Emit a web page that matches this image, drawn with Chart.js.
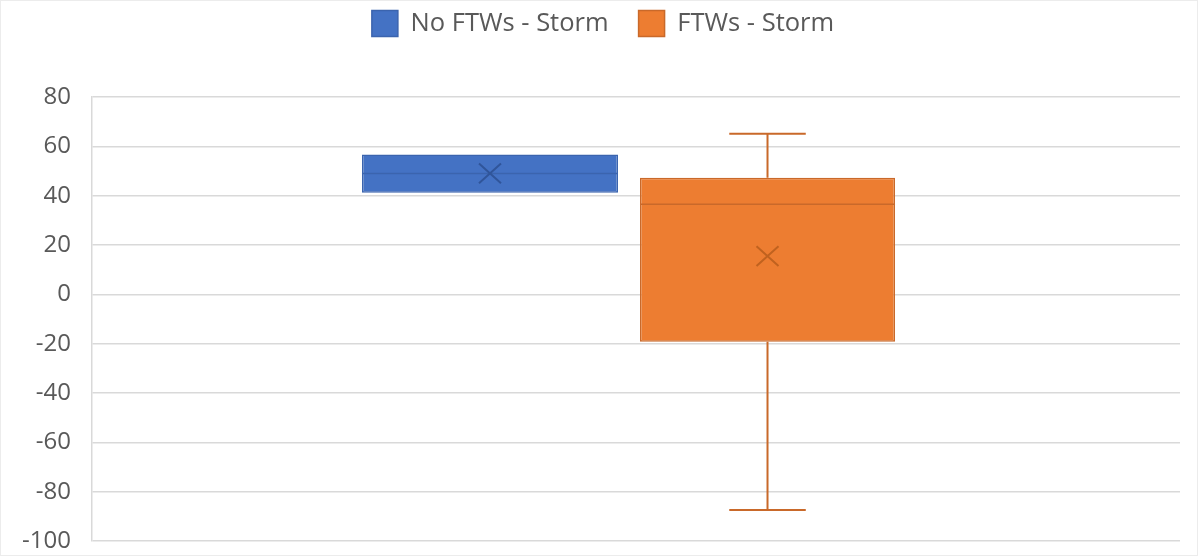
<!DOCTYPE html>
<html>
<head>
<meta charset="utf-8">
<script src="https://cdn.jsdelivr.net/npm/chart.js@4/dist/chart.umd.min.js"></script>
<style>
  html, body { margin: 0; padding: 0; background: #ffffff; overflow: hidden; }
  #wrap { width: 1198px; height: 556px; position: relative; overflow: hidden; }
  #frame { position: absolute; inset: 0; border: 1px solid #ececec; pointer-events: none; }
</style>
</head>
<body>
<div id="wrap"><canvas id="chart" width="1198" height="556"></canvas><div id="frame"></div></div>
<script>
// Box-and-whisker summary per series
const categories = [''];
const seriesNames = ['No FTWs - Storm', 'FTWs - Storm'];
const minValues = [41.2, -87.4];
const q1Values = [41.2, -19.2];
const medianValues = [49.0, 36.5];
const q3Values = [56.7, 47.3];
const maxValues = [56.7, 65.1];
const meanValues = [49.0, 15.5];
const yMin = -100, yMax = 80, yStep = 20;

const fills = ['#4472C4', '#ED7D31'];
const edges = ['#3B64AE', '#C9692A'];
const marks = ['#30559A', '#C0621F'];
// slot placement of each box within the single category
const catPct = [0.5368, 0.4835];
const barPct = [0.8767, 0.9696];

const datasets = seriesNames.map((name, i) => ({
  label: name,
  data: [[q1Values[i], q3Values[i]]],
  backgroundColor: fills[i],
  borderColor: edges[i],
  borderWidth: 1.5,
  borderSkipped: false,
  categoryPercentage: catPct[i],
  barPercentage: barPct[i]
}));

// Whiskers, median line and mean cross drawn on top of each box
const boxExtras = {
  id: 'boxExtras',
  afterDatasetsDraw(chart) {
    const ctx = chart.ctx;
    const y = chart.scales.y;
    chart.data.datasets.forEach((ds, i) => {
      const bar = chart.getDatasetMeta(i).data[0];
      if (!bar) return;
      const cx = bar.x;
      const half = bar.width / 2;
      const yq1 = y.getPixelForValue(q1Values[i]);
      const yq3 = y.getPixelForValue(q3Values[i]);
      const ymin = y.getPixelForValue(minValues[i]);
      const ymax = y.getPixelForValue(maxValues[i]);
      const ymed = y.getPixelForValue(medianValues[i]);
      const ymean = y.getPixelForValue(meanValues[i]);
      const cap = bar.width * 0.15;
      ctx.save();
      ctx.strokeStyle = edges[i];
      ctx.lineWidth = 2;
      ctx.beginPath();
      if (ymax < yq3 - 0.5) {
        ctx.moveTo(cx, yq3); ctx.lineTo(cx, ymax);
        ctx.moveTo(cx - cap, ymax); ctx.lineTo(cx + cap, ymax);
      }
      if (ymin > yq1 + 0.5) {
        ctx.moveTo(cx, yq1); ctx.lineTo(cx, ymin);
        ctx.moveTo(cx - cap, ymin); ctx.lineTo(cx + cap, ymin);
      }
      ctx.stroke();
      ctx.lineWidth = 1.5;
      ctx.beginPath();
      ctx.moveTo(cx - half, ymed); ctx.lineTo(cx + half, ymed);
      ctx.stroke();
      ctx.strokeStyle = marks[i];
      ctx.lineWidth = 2;
      const s = 11;
      ctx.beginPath();
      ctx.moveTo(cx - s, ymean - s * 0.9); ctx.lineTo(cx + s, ymean + s * 0.9);
      ctx.moveTo(cx + s, ymean - s * 0.9); ctx.lineTo(cx - s, ymean + s * 0.9);
      ctx.stroke();
      ctx.restore();
    });
  }
};

// Centre the legend row over the whole canvas rather than the padded box
const legendNudge = {
  id: 'legendNudge',
  afterLayout(chart) {
    if (!chart.legend) return;
    chart.legend.left += 8;
    chart.legend.right += 8;
  }
};

new Chart(document.getElementById('chart'), {
  type: 'bar',
  data: { labels: categories, datasets },
  plugins: [boxExtras, legendNudge],
  options: {
    responsive: false,
    animation: false,
    layout: { padding: { left: 10, right: 18, top: -19.5, bottom: 15 } },
    plugins: {
      tooltip: { enabled: false },
      legend: {
        position: 'top',
        labels: {
          boxWidth: 26,
          boxHeight: 26,
          padding: 30,
          color: '#595959',
          font: { family: 'Open Sans', size: 25.5 }
        }
      },
      // empty band between the legend and the plot
      subtitle: {
        display: true,
        text: '',
        weight: 500,
        font: { size: 1, lineHeight: 1 },
        padding: { top: 49.5, bottom: 0 }
      }
    },
    scales: {
      x: {
        display: false,
        grid: { display: false }
      },
      y: {
        min: yMin,
        max: yMax,
        ticks: {
          stepSize: yStep,
          padding: 21,
          color: '#595959',
          font: { family: 'Open Sans', size: 24 }
        },
        grid: { color: '#d9d9d9', lineWidth: 1.5, drawTicks: false },
        border: { color: '#d9d9d9', width: 1.5 },
        afterFit(scale) {
          scale.width = 82;
          // tick labels may overhang the plot's top and bottom edges
          scale.paddingTop = 0;
          scale.paddingBottom = 0;
        }
      }
    }
  }
});
</script>
</body>
</html>
